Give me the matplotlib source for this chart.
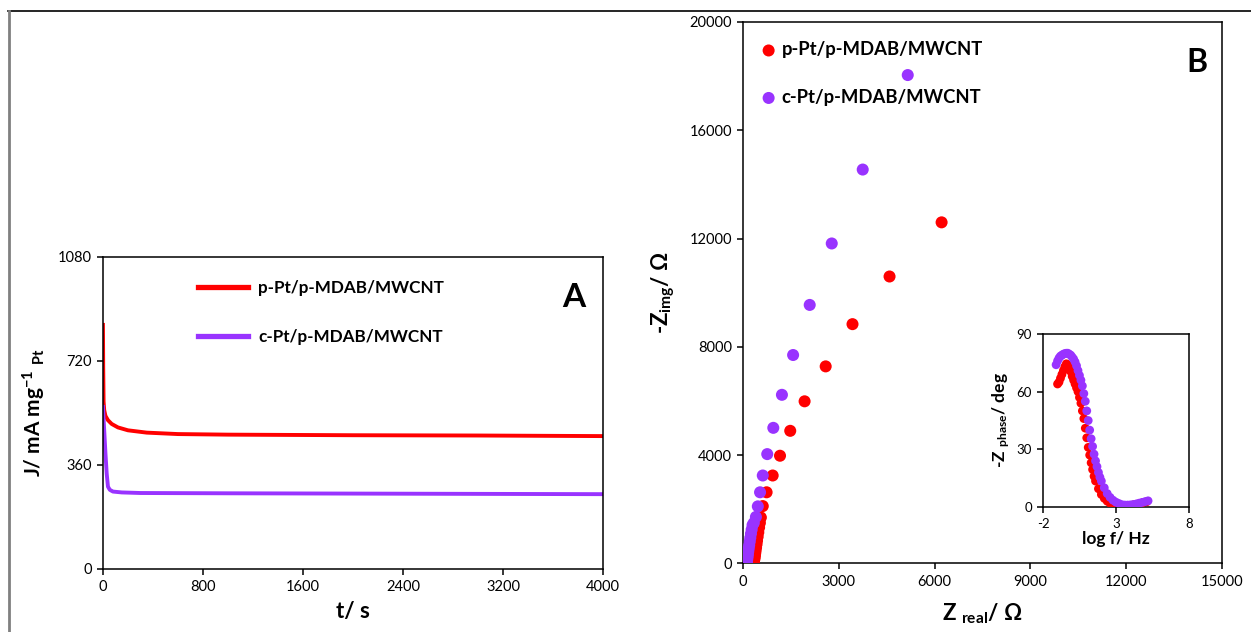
import matplotlib
matplotlib.use("Agg")
import matplotlib.pyplot as plt
from matplotlib.lines import Line2D

plt.rcParams['font.family'] = ['Lato', 'DejaVu Sans']
plt.rcParams['mathtext.fontset'] = 'custom'
plt.rcParams['mathtext.rm'] = 'Lato:bold'
plt.rcParams['mathtext.it'] = 'Lato:bold'
plt.rcParams['mathtext.bf'] = 'Lato:bold'
plt.rcParams['axes.unicode_minus'] = False

RED = "#ff0000"
PURPLE = "#9933ff"
labels = ["p-Pt/p-MDAB/MWCNT", "c-Pt/p-MDAB/MWCNT"]

# panel A: chronoamperometry
t_red = [0, 2, 5, 10, 20, 40, 70, 120, 200, 350, 600, 1000, 2000, 3000, 4000]
j_red = [845, 700, 580, 550, 530, 515, 502, 490, 480, 472, 467, 465, 463, 462, 460]
t_pur = [0, 10, 20, 30, 40, 55, 80, 150, 300, 1000, 2000, 3000, 4000]
j_pur = [561, 480, 400, 330, 285, 274, 268, 265, 263, 262, 261, 260, 259]

# panel B: Nyquist
zr_red = [330, 335, 345, 355, 365, 375, 385, 395, 410, 425, 440, 460, 480, 505,
          530, 560, 620, 740, 930, 1160, 1480, 1930, 2590, 3430, 4590, 6220]
zi_red = [0, 40, 90, 150, 220, 300, 390, 480, 590, 710, 840, 990, 1150, 1330,
          1500, 1700, 2120, 2630, 3250, 3980, 4900, 5990, 7280, 8840, 10600, 12600]
zr_pur = [115, 120, 128, 136, 145, 155, 166, 180, 195, 212, 230, 250, 272, 300,
          340, 405, 465, 535, 620, 760, 950, 1220, 1570, 2090, 2780, 3750, 5160]
zi_pur = [0, 50, 110, 180, 260, 350, 450, 560, 680, 810, 950, 1100, 1250, 1420,
          1500, 1720, 2110, 2630, 3250, 4040, 5010, 6230, 7700, 9550, 11820, 14550, 18040]

# inset: Bode phase
lf_red = [-1.0, -0.9, -0.8, -0.7, -0.6, -0.5, -0.4, -0.3, -0.2, -0.1, 0.0, 0.1, 0.2, 0.3,
          0.4, 0.5, 0.6, 0.7, 0.8, 0.9, 1.0, 1.1, 1.2, 1.3, 1.4, 1.5, 1.6, 1.8, 2.0, 2.2,
          2.4, 2.6, 2.8, 3.0, 3.3, 3.6, 3.9, 4.2, 4.5, 4.8, 5.1]
ph_red = [64, 65, 67, 69, 71, 73, 74.5, 74, 72.5, 70.5, 68, 66, 64, 62,
          60, 57, 54, 50, 46, 41, 36, 31, 27, 23, 19.5, 16, 13.5, 9.5, 6.5, 4.5,
          3, 2, 1.3, 1, 0.8, 0.7, 0.8, 1.1, 1.5, 2.1, 2.7]
lf_pur = [-1.1, -1.0, -0.9, -0.8, -0.7, -0.6, -0.5, -0.4, -0.3, -0.2, -0.1, 0.0, 0.1, 0.2,
          0.3, 0.4, 0.5, 0.6, 0.7, 0.8, 0.9, 1.0, 1.1, 1.2, 1.3, 1.4, 1.5, 1.6, 1.7, 1.8,
          1.9, 2.0, 2.2, 2.4, 2.6, 2.8, 3.0, 3.2, 3.4, 3.6, 3.8, 4.0, 4.2, 4.4, 4.6, 4.8,
          5.0, 5.2]
ph_pur = [74, 76, 77.5, 78.5, 79, 79.5, 79.8, 80, 80, 79.5, 79, 78, 77, 75.5,
          73.5, 71, 68.5, 66, 63, 59, 55, 50, 45, 40, 35.5, 31.5, 27.5, 24, 21, 18,
          15.5, 13.5, 10, 7, 5, 3.5, 2.5, 1.8, 1.2, 1.0, 1.0, 1.1, 1.3, 1.6, 2.0, 2.4,
          2.8, 3.2]

fig = plt.figure(figsize=(12.51, 6.32), dpi=100)

# frame lines of the original figure
fig.add_artist(Line2D([8 / 1251, 1], [1 - 11 / 632, 1 - 11 / 632], color="black", lw=1.2))
fig.add_artist(Line2D([9 / 1251, 9 / 1251], [0, 1 - 11 / 632], color="#808080", lw=2))


def style(ax, size=10.5):
    for s in ax.spines.values():
        s.set_linewidth(1.1)
    ax.tick_params(direction="out", length=4, width=1.1, labelsize=size, pad=4)


# ---- panel A
axA = fig.add_axes([0.0823, 0.0997, 0.3997, 0.4937])
axA.plot(t_red, j_red, color=RED, lw=2.8, label=labels[0])
axA.plot(t_pur, j_pur, color=PURPLE, lw=2.8, label=labels[1])
axA.set_xlim(0, 4000)
axA.set_ylim(0, 1080)
axA.set_xticks([0, 800, 1600, 2400, 3200, 4000])
axA.set_yticks([0, 360, 720, 1080])
style(axA)
axA.set_xlabel("t/ s", fontsize=16, fontweight="bold", labelpad=5)
axA.set_ylabel(r"J/ mA mg$^{-1}$ $_{Pt}$", fontsize=15, fontweight="bold", labelpad=7)
leg = axA.legend(loc="upper left", bbox_to_anchor=(0.16, 0.975), frameon=False,
                 prop={"weight": "bold", "size": 12.3}, handlelength=2.9,
                 labelspacing=1.9, handletextpad=0.6)
for h in leg.get_lines():
    h.set_linewidth(3.8)
axA.text(0.965, 0.87, "A", transform=axA.transAxes, fontsize=24,
         fontweight="bold", ha="right", va="center")

# ---- panel B
axB = fig.add_axes([0.5939, 0.1084, 0.3829, 0.8568])
axB.scatter(zr_red, zi_red, s=75, color=RED, edgecolors="none", label=labels[0], zorder=3)
axB.scatter(zr_pur, zi_pur, s=75, color=PURPLE, edgecolors="none", label=labels[1], zorder=4)
axB.set_xlim(0, 15000)
axB.set_ylim(0, 20000)
axB.set_xticks(range(0, 15001, 3000))
axB.set_yticks(range(0, 20001, 4000))
style(axB)
axB.set_xlabel(r"Z $_{real}$/ Ω", fontsize=16, fontweight="bold", labelpad=9)
axB.set_ylabel(r"-Z$_{img}$/ Ω", fontsize=16, fontweight="bold", labelpad=9)
axB.legend(loc="upper left", bbox_to_anchor=(-0.012, 0.995), frameon=False,
           prop={"weight": "bold", "size": 13.3}, handletextpad=-0.1,
           labelspacing=1.65, markerscale=1.0, scatterpoints=1, handlelength=1.6)
axB.text(0.97, 0.926, "B", transform=axB.transAxes, fontsize=23,
         fontweight="bold", ha="right", va="center")

# ---- inset
axI = fig.add_axes([0.8337, 0.1978, 0.1167, 0.2737])
axI.scatter(lf_red, ph_red, s=40, color=RED, edgecolors="none", zorder=3)
axI.scatter(lf_pur, ph_pur, s=40, color=PURPLE, edgecolors="none", zorder=4)
axI.set_xlim(-2, 8)
axI.set_ylim(0, 90)
axI.set_xticks([-2, 3, 8])
axI.set_yticks([0, 30, 60, 90])
style(axI, size=9.5)
axI.set_xlabel("log f/ Hz", fontsize=12.5, fontweight="bold", labelpad=1)
axI.set_ylabel(r"-Z $_{phase}$/ deg", fontsize=12.5, fontweight="bold", labelpad=3)

fig.savefig("out.png", dpi=100)
